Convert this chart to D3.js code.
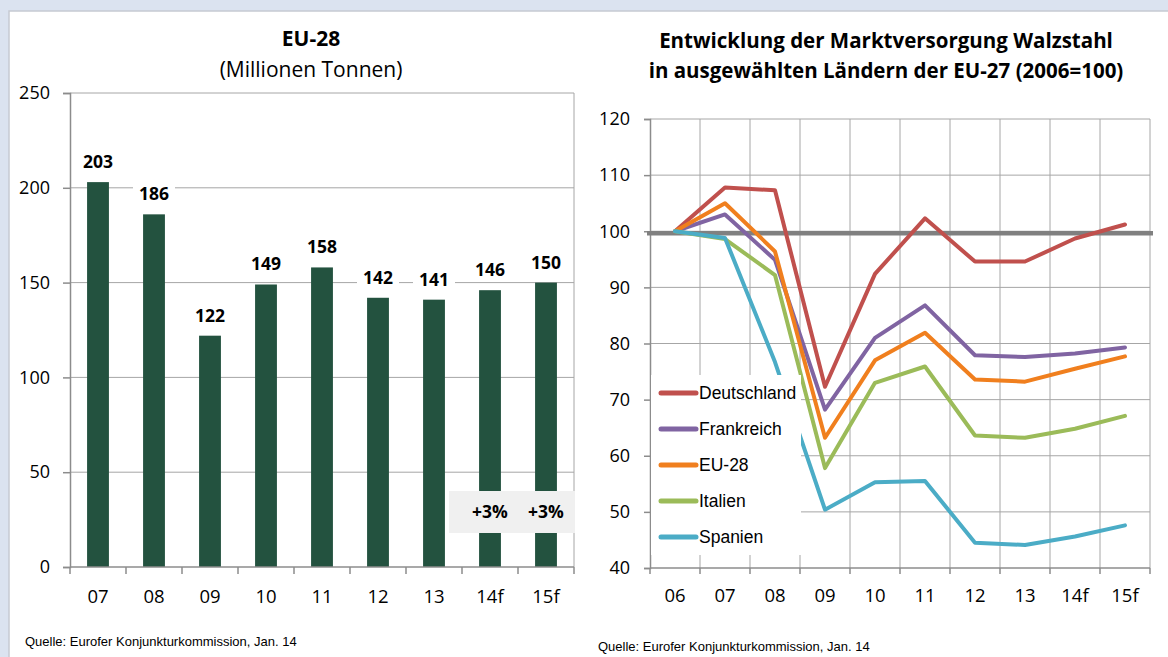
<!DOCTYPE html>
<html>
<head>
<meta charset="utf-8">
<script src="https://cdn.jsdelivr.net/npm/d3@7.9.0/dist/d3.min.js"></script>
<style>
  html, body { margin: 0; padding: 0; background: #dbe3f0; }
  svg { display: block; }
  .num { font-family: "Open Sans", Lato, sans-serif; }
  .src { font-family: "Liberation Sans", Arial, sans-serif; font-size: 13px; fill: #000; }
</style>
</head>
<body>
<div id="chart"></div>
<script>
// left chart: EU-28 market supply (Mio t)
const barYears = ["07", "08", "09", "10", "11", "12", "13", "14f", "15f"];
const barValues = [203, 186, 122, 149, 158, 142, 141, 146, 150];
const barTicks = [0, 50, 100, 150, 200, 250];
const forecastYears = ["14f", "15f"];
const forecastLabels = ["+3%", "+3%"];

// right chart: index 2006=100
const lineYears = ["06", "07", "08", "09", "10", "11", "12", "13", "14f", "15f"];
const lineTicks = [40, 50, 60, 70, 80, 90, 100, 110, 120];
const deutschland = [100, 107.8, 107.3, 72.3, 92.4, 102.3, 94.6, 94.6, 98.7, 101.2];
const frankreich  = [100, 103.0, 94.9, 68.2, 81.0, 86.8, 77.9, 77.6, 78.2, 79.3];
const eu28        = [100, 105.0, 96.4, 63.2, 77.0, 81.9, 73.6, 73.2, 75.5, 77.7];
const italien     = [100, 98.6, 92.2, 57.8, 73.0, 75.9, 63.6, 63.2, 64.8, 67.1];
const spanien     = [100, 98.8, 76.7, 50.4, 55.3, 55.5, 44.5, 44.1, 45.6, 47.6];
const seriesNames = ["Deutschland", "Frankreich", "EU-28", "Italien", "Spanien"];
const seriesColors = ["#c0504d", "#8064a2", "#f07f1e", "#9bbb59", "#4bacc6"];
const seriesData = [deutschland, frankreich, eu28, italien, spanien];

const W = 1168, H = 657;
const gridColor = "#a6a6a6", axisColor = "#8c8c8c";

const svg = d3.select("#chart").append("svg")
  .attr("width", W).attr("height", H);

svg.append("rect")
  .attr("x", 9).attr("y", 11).attr("width", W).attr("height", H)
  .attr("fill", "#fff").attr("stroke", "#c6cad2").attr("stroke-width", 1.5);

// ---------- bar chart ----------
const bx = d3.scaleBand().domain(barYears).range([70, 574]).paddingInner(0.61).paddingOuter(0.305);
const bxEdge = d3.scaleBand().domain(barYears).range([70, 574]);
const by = d3.scaleLinear().domain([0, 250]).range([567, 93]);

const left = svg.append("g");

left.selectAll("line.grid").data(barTicks.filter(t => t > 0)).join("line")
  .attr("class", "grid")
  .attr("x1", 70).attr("x2", 574)
  .attr("y1", d => by(d)).attr("y2", d => by(d))
  .attr("stroke", gridColor).attr("stroke-width", 1);

left.append("line").attr("x1", 574).attr("x2", 574).attr("y1", by(250)).attr("y2", by(0))
  .attr("stroke", gridColor);

left.selectAll("rect.bar").data(barValues).join("rect")
  .attr("class", "bar")
  .attr("x", (d, i) => bx(barYears[i]))
  .attr("width", bx.bandwidth())
  .attr("y", d => by(d))
  .attr("height", d => by(0) - by(d))
  .attr("fill", "#23523f");

// axes
left.append("g")
  .attr("transform", "translate(70,0)")
  .call(d3.axisLeft(by).tickValues(barTicks).tickSize(7).tickPadding(13))
  .call(g => g.select(".domain").attr("stroke", axisColor).attr("stroke-width", 1.5))
  .call(g => g.selectAll(".tick line").attr("stroke", axisColor).attr("stroke-width", 1.5))
  .call(g => g.selectAll(".tick text").attr("class", "num").attr("font-size", 18).attr("fill", "#000"));

const bxAxis = left.append("g").attr("transform", `translate(0,${by(0)})`);
bxAxis.append("line").attr("x1", 70).attr("x2", 574).attr("stroke", axisColor).attr("stroke-width", 1.5);
bxAxis.selectAll("line.t").data(barYears.concat(["end"])).join("line")
  .attr("class", "t")
  .attr("x1", (d, i) => 70 + i * bxEdge.step()).attr("x2", (d, i) => 70 + i * bxEdge.step())
  .attr("y1", 0).attr("y2", 7).attr("stroke", axisColor).attr("stroke-width", 1.5);
bxAxis.selectAll("text").data(barYears).join("text")
  .attr("class", "num")
  .attr("x", d => bxEdge(d) + bxEdge.bandwidth() / 2)
  .attr("y", 36).attr("text-anchor", "middle").attr("font-size", 18.5)
  .text(d => d);

// value labels with white background
const lbl = left.selectAll("g.lbl").data(barValues).join("g").attr("class", "lbl");
lbl.append("rect")
  .attr("x", (d, i) => bxEdge(barYears[i]) + bxEdge.bandwidth() / 2 - 21)
  .attr("y", d => by(d) - 33).attr("width", 42).attr("height", 23)
  .attr("fill", "#fff");
lbl.append("text")
  .attr("class", "num")
  .attr("x", (d, i) => bxEdge(barYears[i]) + bxEdge.bandwidth() / 2)
  .attr("y", d => by(d) - 14)
  .attr("text-anchor", "middle").attr("font-size", 17.5).attr("font-weight", 700)
  .text(d => d);

// forecast box
left.append("rect")
  .attr("x", bxEdge(forecastYears[0]) - 13).attr("y", 491)
  .attr("width", 2 * bxEdge.step() + 14).attr("height", 42)
  .attr("fill", "#f0f0f0");
left.selectAll("text.fc").data(forecastLabels).join("text")
  .attr("class", "num")
  .attr("x", (d, i) => bxEdge(forecastYears[i]) + bxEdge.bandwidth() / 2)
  .attr("y", 518).attr("text-anchor", "middle")
  .attr("font-size", 17.5).attr("font-weight", 700)
  .text(d => d);

left.append("text").attr("class", "num")
  .attr("x", 311).attr("y", 46).attr("text-anchor", "middle")
  .attr("font-size", 21).attr("font-weight", 700).text("EU-28");
left.append("text").attr("class", "num")
  .attr("x", 311).attr("y", 77).attr("text-anchor", "middle")
  .attr("font-size", 21).text("(Millionen Tonnen)");

left.append("text").attr("class", "src").attr("x", 25).attr("y", 646)
  .text("Quelle: Eurofer Konjunkturkommission, Jan. 14");

// ---------- line chart ----------
const lx = d3.scalePoint().domain(lineYears).range([675, 1125]);
const lxEdge = d3.scaleBand().domain(lineYears).range([650, 1150]);
const ly = d3.scaleLinear().domain([40, 120]).range([568, 119]);

const right = svg.append("g");

right.selectAll("line.hg").data(lineTicks.filter(t => t > 40)).join("line")
  .attr("x1", 650).attr("x2", 1150)
  .attr("y1", d => ly(d)).attr("y2", d => ly(d))
  .attr("stroke", gridColor);
right.selectAll("line.vg").data(lineYears).join("line")
  .attr("x1", (d, i) => 650 + (i + 1) * lxEdge.step())
  .attr("x2", (d, i) => 650 + (i + 1) * lxEdge.step())
  .attr("y1", ly(120)).attr("y2", ly(40))
  .attr("stroke", gridColor);

right.append("g")
  .attr("transform", "translate(650,0)")
  .call(d3.axisLeft(ly).tickValues(lineTicks).tickSize(6).tickPadding(14))
  .call(g => g.select(".domain").attr("stroke", axisColor).attr("stroke-width", 1.5))
  .call(g => g.selectAll(".tick line").attr("stroke", axisColor).attr("stroke-width", 1.5))
  .call(g => g.selectAll(".tick text").attr("class", "num").attr("font-size", 18).attr("fill", "#000"));

const lxAxis = right.append("g").attr("transform", `translate(0,${ly(40)})`);
lxAxis.append("line").attr("x1", 650).attr("x2", 1150).attr("stroke", axisColor).attr("stroke-width", 1.5);
lxAxis.selectAll("line.t").data(lineYears.concat(["end"])).join("line")
  .attr("x1", (d, i) => 650 + i * lxEdge.step()).attr("x2", (d, i) => 650 + i * lxEdge.step())
  .attr("y1", 0).attr("y2", 6).attr("stroke", axisColor).attr("stroke-width", 1.5);
lxAxis.selectAll("text").data(lineYears).join("text")
  .attr("class", "num")
  .attr("x", d => lx(d)).attr("y", 34)
  .attr("text-anchor", "middle").attr("font-size", 18.5)
  .text(d => d);

// 100 reference line
right.append("line")
  .attr("x1", 647).attr("x2", 1153)
  .attr("y1", ly(100) + 2).attr("y2", ly(100) + 2)
  .attr("stroke", "#808080").attr("stroke-width", 4.5);

const line = d3.line().x((d, i) => lx(lineYears[i])).y(d => ly(d));
right.selectAll("path.series").data(seriesData).join("path")
  .attr("class", "series")
  .attr("d", d => line(d))
  .attr("fill", "none")
  .attr("stroke", (d, i) => seriesColors[i])
  .attr("stroke-width", 4)
  .attr("stroke-linejoin", "round").attr("stroke-linecap", "round");

// legend
const leg = right.append("g");
leg.append("rect").attr("x", 651).attr("y", 375).attr("width", 150).attr("height", 180).attr("fill", "#fff");
const li = leg.selectAll("g.li").data(seriesNames).join("g")
  .attr("transform", (d, i) => `translate(0,${393 + i * 36})`);
li.append("line").attr("x1", 661).attr("x2", 696)
  .attr("stroke", (d, i) => seriesColors[i]).attr("stroke-width", 5).attr("stroke-linecap", "round");
li.append("text").attr("x", 699).attr("y", 6)
  .attr("font-family", "'Liberation Sans', Arial, sans-serif").attr("font-size", 17.5)
  .text(d => d);

right.append("text").attr("class", "num")
  .attr("x", 886).attr("y", 48).attr("text-anchor", "middle")
  .attr("font-size", 20.5).attr("font-weight", 700)
  .text("Entwicklung der Marktversorgung Walzstahl");
right.append("text").attr("class", "num")
  .attr("x", 886).attr("y", 78).attr("text-anchor", "middle")
  .attr("font-size", 20.5).attr("font-weight", 700)
  .text("in ausgewählten Ländern der EU-27 (2006=100)");

right.append("text").attr("class", "src").attr("x", 598).attr("y", 651)
  .text("Quelle: Eurofer Konjunkturkommission, Jan. 14");
</script>
</body>
</html>
